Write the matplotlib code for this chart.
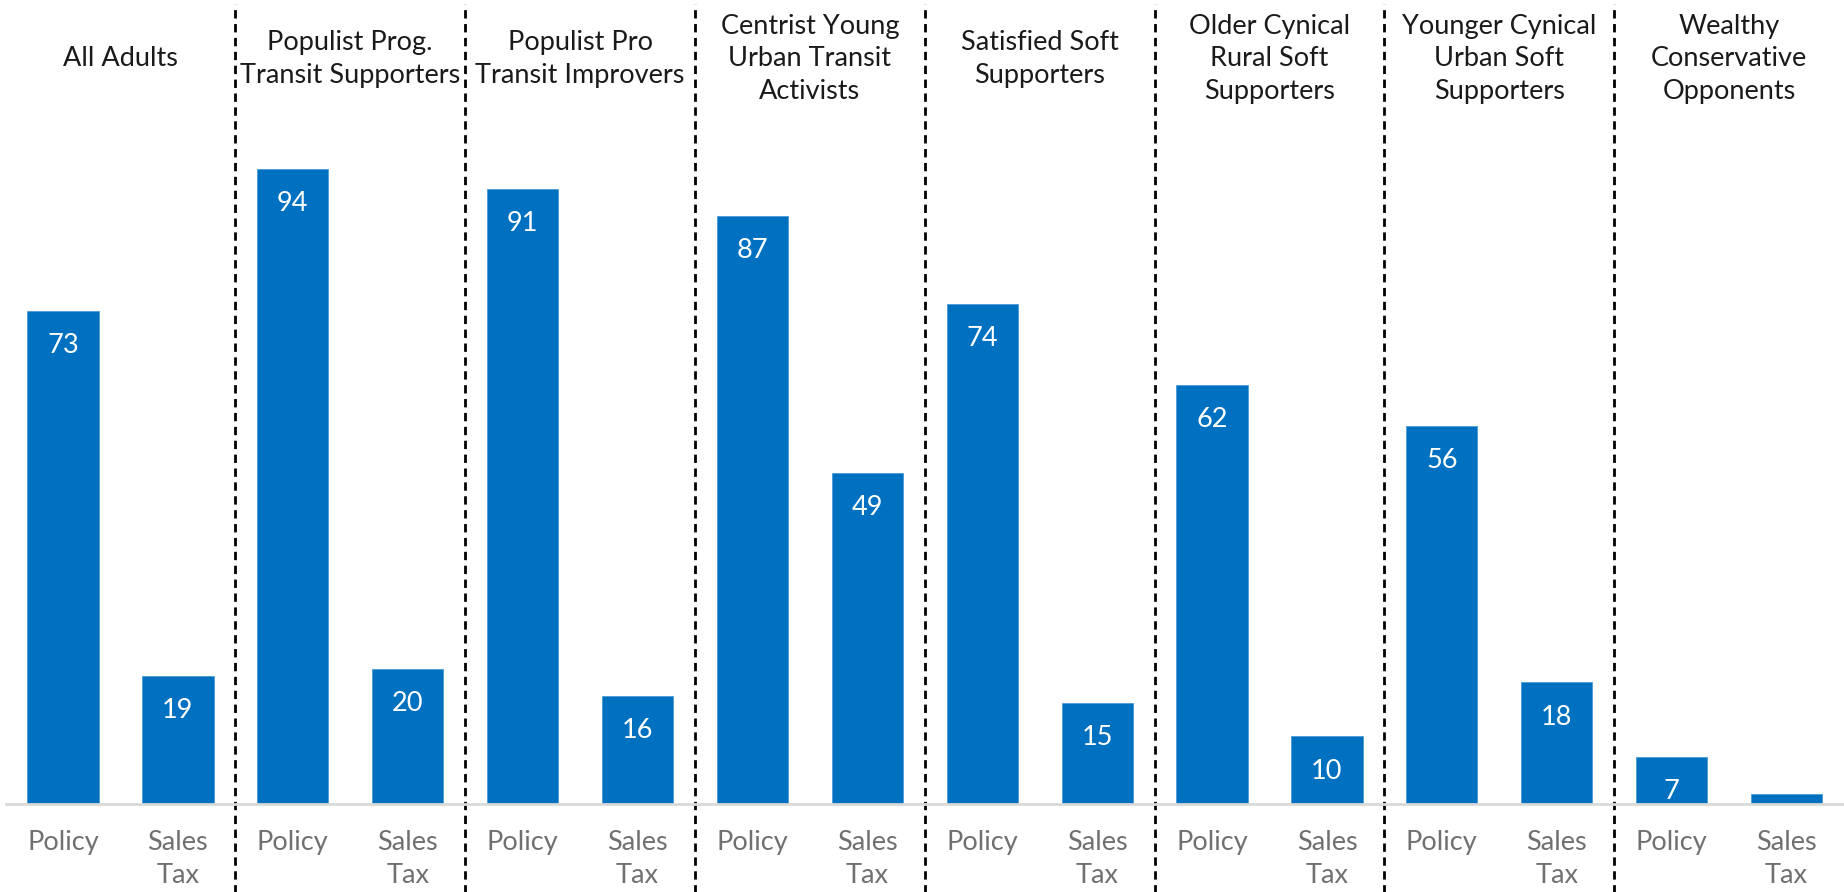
import matplotlib.pyplot as plt
import numpy as np

plt.rcParams['font.family'] = ['Lato', 'DejaVu Sans']

segments = ["All Adults", "Populist Prog.\nTransit Supporters", "Populist Pro\nTransit Improvers",
            "Centrist Young\nUrban Transit\nActivists", "Satisfied Soft\nSupporters",
            "Older Cynical\nRural Soft\nSupporters", "Younger Cynical\nUrban Soft\nSupporters",
            "Wealthy\nConservative\nOpponents"]
policy = [73, 94, 91, 87, 74, 62, 56, 7]
sales_tax = [19, 20, 16, 49, 15, 10, 18, 1.5]
bar_names = ["Policy", "Sales\nTax"]

blue = "#0070C0"

fig = plt.figure(figsize=(18.44, 8.92), dpi=100)
ax = fig.add_axes([0.003, 0.0987, 0.997, 0.9013])

n = len(segments)
x_pol = np.arange(n) * 2
x_tax = x_pol + 1
ax.bar(x_pol, policy, width=0.62, color=blue, edgecolor="#4a9ad6", linewidth=0.6)
ax.bar(x_tax, sales_tax, width=0.62, color=blue, edgecolor="#4a9ad6", linewidth=0.6)

# value labels inside the top of each bar (tiny bars get none)
for xs, vals in [(x_pol, policy), (x_tax, sales_tax)]:
    for xv, v in zip(xs, vals):
        if v >= 5:
            ax.annotate(f"{v:g}", (xv, v), xytext=(0, -25), textcoords="offset points",
                        ha="center", va="center", color="white", fontsize=19.5)

ax.set_xlim(-0.5, 2 * n - 0.5)
ax.set_ylim(0, 119)

# dashed separators between segments
for k in range(1, n):
    ax.axvline(2 * k - 0.5, ymin=-0.12, ymax=0.995, color="black", linestyle=(0, (3, 2)),
               linewidth=2, clip_on=False)

# segment titles
for k, name in enumerate(segments):
    ax.text(2 * k + 0.5, 110.3, name, ha="center", va="center", fontsize=19.5,
            color="#1a1a1a", linespacing=1.38)

ax.set_xticks(np.arange(2 * n))
ax.set_xticklabels(bar_names * n, fontsize=19.5, color="#707070", linespacing=1.38)
ax.tick_params(axis="x", length=0, pad=19)
ax.set_yticks([])
for side in ["top", "right", "left"]:
    ax.spines[side].set_visible(False)
ax.spines["bottom"].set_color("#d9d9d9")
ax.spines["bottom"].set_linewidth(2)

fig.savefig("out.png", dpi=100)
